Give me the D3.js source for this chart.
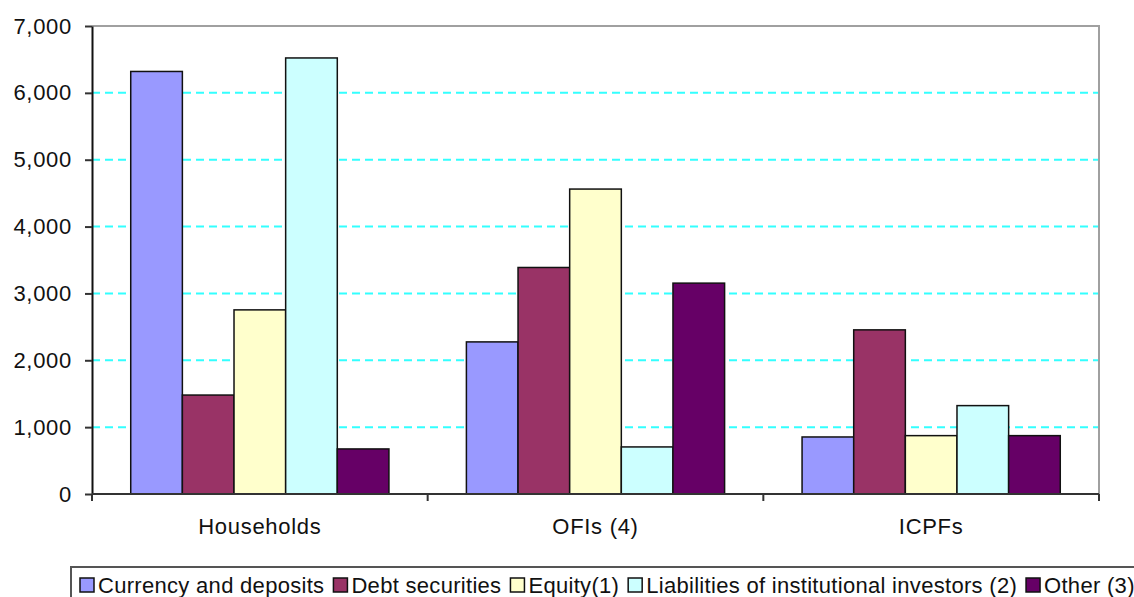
<!DOCTYPE html>
<html>
<head>
<meta charset="utf-8">
<script src="https://cdn.jsdelivr.net/npm/d3@7"></script>
<style>
  body { margin: 0; background: #fff; }
  text { font-family: "Liberation Sans", Arial, sans-serif; fill: #111; }
</style>
</head>
<body>
<div id="chart"></div>
<script>
// categories and series
var categories = ["Households", "OFIs (4)", "ICPFs"];
var seriesNames = ["Currency and deposits", "Debt securities", "Equity(1)",
    "Liabilities of institutional investors (2)", "Other (3)"];
var seriesColors = ["#9999ff", "#993366", "#ffffcc", "#ccffff", "#660066"];

// values per series, in the order of categories
var currencyDeposits = [6320, 2275, 853];
var debtSecurities   = [1480, 3388, 2455];
var equity           = [2754, 4561, 873];
var liabilities      = [6522, 704, 1322];
var other            = [674, 3154, 873];

var yTicks = [0, 1000, 2000, 3000, 4000, 5000, 6000, 7000];

var seriesValues = [currencyDeposits, debtSecurities, equity, liabilities, other];

var width = 1134, height = 597;
var margin = { top: 26, right: 35, bottom: 103, left: 92 };
var innerW = width - margin.left - margin.right;
var innerH = height - margin.top - margin.bottom;

var svg = d3.select("#chart").append("svg")
    .attr("width", width)
    .attr("height", height);

var g = svg.append("g")
    .attr("transform", "translate(" + margin.left + "," + margin.top + ")");

var x0 = d3.scaleBand()
    .domain(categories)
    .range([0, innerW])
    .paddingInner(0)
    .paddingOuter(0);

var x1 = d3.scaleBand()
    .domain(d3.range(seriesNames.length))
    .range([0, x0.bandwidth()])
    .paddingInner(0)
    .paddingOuter(0.75);

var y = d3.scaleLinear()
    .domain([0, 7000])
    .range([innerH, 0]);

// dashed gridlines
g.selectAll("line.grid")
    .data(yTicks.filter(function(d) { return d > 0 && d < 7000; }))
    .enter().append("line")
    .attr("class", "grid")
    .attr("x1", 0)
    .attr("x2", innerW)
    .attr("y1", function(d) { return y(d); })
    .attr("y2", function(d) { return y(d); })
    .style("stroke", "#33ffff")
    .style("stroke-width", 2)
    .style("stroke-dasharray", "8,5");

// plot area border (top and right)
g.append("path")
    .attr("d", "M0," + y(7000) + "H" + innerW + "V" + y(0))
    .style("fill", "none")
    .style("stroke", "#a0a0a0")
    .style("stroke-width", 2);

// bars
var rows = [];
categories.forEach(function(c, ci) {
    seriesValues.forEach(function(vals, si) {
        rows.push({ cat: c, s: si, value: vals[ci] });
    });
});

g.selectAll("rect.bar")
    .data(rows)
    .enter().append("rect")
    .attr("class", "bar")
    .attr("x", function(d) { return x0(d.cat) + x1(d.s); })
    .attr("width", x1.bandwidth())
    .attr("y", function(d) { return y(d.value); })
    .attr("height", function(d) { return y(0) - y(d.value); })
    .style("fill", function(d) { return seriesColors[d.s]; })
    .style("stroke", "#111")
    .style("stroke-width", 1.5);

// y axis
var yAxis = d3.axisLeft(y)
    .tickValues(yTicks)
    .tickFormat(d3.format(","))
    .tickSize(7)
    .tickSizeOuter(0)
    .tickPadding(13);

var yg = g.append("g").call(yAxis);
yg.select(".domain").style("stroke", "#111").style("stroke-width", 2);
yg.selectAll(".tick line").style("stroke", "#333").style("stroke-width", 2);
yg.selectAll(".tick text")
    .style("font-size", "22px")
    .style("letter-spacing", "0.7px")
    .style("fill", "#111")
    .attr("font-family", null);

// x axis
g.append("line")
    .attr("x1", 0).attr("x2", innerW)
    .attr("y1", y(0)).attr("y2", y(0))
    .style("stroke", "#333")
    .style("stroke-width", 2);

var xTickPos = categories.map(function(c) { return x0(c); }).concat([innerW]);
g.selectAll("line.xtick")
    .data(xTickPos)
    .enter().append("line")
    .attr("class", "xtick")
    .attr("x1", function(d) { return d; })
    .attr("x2", function(d) { return d; })
    .attr("y1", y(0))
    .attr("y2", y(0) + 7)
    .style("stroke", "#333")
    .style("stroke-width", 2);

g.selectAll("text.cat")
    .data(categories)
    .enter().append("text")
    .attr("class", "cat")
    .attr("x", function(d) { return x0(d) + x0.bandwidth() / 2; })
    .attr("y", y(0) + 40)
    .attr("text-anchor", "middle")
    .style("font-size", "22px")
    .style("letter-spacing", "0.7px")
    .text(function(d) { return d; });

// legend
var legend = svg.append("g").attr("transform", "translate(71,567)");
legend.append("rect")
    .attr("x", 0).attr("y", 0)
    .attr("width", 1100).attr("height", 45)
    .style("fill", "#fff")
    .style("stroke", "#555")
    .style("stroke-width", 2);

var lx = 9;
seriesNames.forEach(function(name, i) {
    legend.append("rect")
        .attr("x", lx).attr("y", 11)
        .attr("width", 14).attr("height", 14)
        .style("fill", seriesColors[i])
        .style("stroke", "#111")
        .style("stroke-width", 1.5);
    var t = legend.append("text")
        .attr("x", lx + 18)
        .attr("y", 26)
        .style("font-size", "22px")
        .style("letter-spacing", "0.3px")
        .text(name);
    lx += 18 + t.node().getComputedTextLength() + 9;
});
</script>
</body>
</html>
